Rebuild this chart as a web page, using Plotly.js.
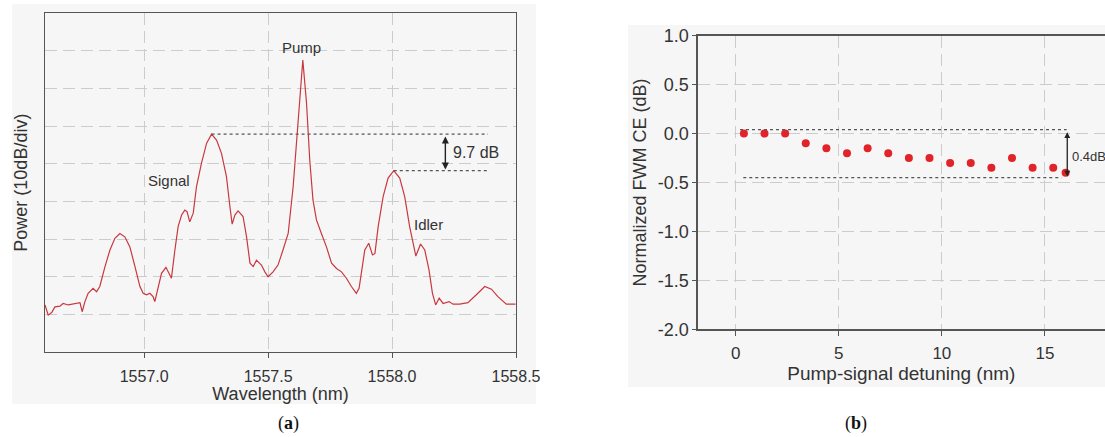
<!DOCTYPE html>
<html>
<head>
<meta charset="utf-8">
<script src="https://cdn.plot.ly/plotly-3.0.1.min.js"></script>
<style>
  html, body { margin: 0; padding: 0; background: #ffffff; overflow: hidden; }
  #chart { width: 1105px; height: 437px; }
</style>
</head>
<body>
<div id="chart"></div>
<script>
// (a) optical spectrum at the waveguide output
const wavelength = [
  1556.600, 1556.613, 1556.627, 1556.640, 1556.660, 1556.673, 1556.694, 1556.721, 1556.741, 1556.750,
  1556.761, 1556.774, 1556.794, 1556.808, 1556.821, 1556.842, 1556.862, 1556.882, 1556.902, 1556.922,
  1556.942, 1556.963, 1556.983, 1556.996, 1557.010, 1557.023, 1557.036, 1557.043, 1557.056, 1557.070,
  1557.088, 1557.101, 1557.110, 1557.124, 1557.137, 1557.151, 1557.164, 1557.173, 1557.184, 1557.198,
  1557.211, 1557.231, 1557.252, 1557.272, 1557.292, 1557.312, 1557.332, 1557.346, 1557.355, 1557.366,
  1557.379, 1557.399, 1557.413, 1557.427, 1557.440, 1557.453, 1557.473, 1557.487, 1557.500, 1557.520,
  1557.540, 1557.560, 1557.581, 1557.601, 1557.621, 1557.640, 1557.655, 1557.668, 1557.681, 1557.695,
  1557.715, 1557.735, 1557.756, 1557.776, 1557.796, 1557.816, 1557.836, 1557.856, 1557.867, 1557.877,
  1557.890, 1557.906, 1557.921, 1557.931, 1557.944, 1557.964, 1557.984, 1558.007, 1558.031, 1558.051,
  1558.071, 1558.096, 1558.115, 1558.132, 1558.149, 1558.163, 1558.176, 1558.190, 1558.206, 1558.230,
  1558.246, 1558.273, 1558.306, 1558.340, 1558.374, 1558.401, 1558.427, 1558.461, 1558.498
];
const power = [
  -67.5, -70.2, -69.5, -68.0, -67.8, -67.1, -67.5, -67.1, -66.9, -69.3,
  -66.6, -64.4, -63.1, -64.0, -62.6, -57.3, -52.9, -49.8, -48.5, -49.4,
  -52.0, -57.3, -62.6, -64.4, -64.8, -64.4, -65.3, -66.6, -62.6, -59.1,
  -57.5, -59.1, -60.4, -52.9, -46.7, -43.6, -42.3, -42.7, -45.4, -43.1,
  -36.1, -29.9, -24.5, -22.1, -23.7, -27.2, -33.4, -41.4, -46.0, -43.6,
  -42.5, -44.0, -49.4, -56.4, -57.3, -55.6, -56.9, -58.7, -60.0, -58.7,
  -56.9, -52.9, -48.5, -36.1, -18.3, -2.4, -13.9, -29.0, -39.6, -44.9,
  -48.5, -52.0, -56.4, -57.8, -58.7, -60.4, -62.6, -64.4, -63.1, -59.1,
  -52.9, -51.1, -54.2, -53.8, -46.7, -38.7, -33.8, -31.8, -33.8, -38.7,
  -46.7, -54.5, -51.3, -52.9, -58.2, -64.4, -67.5, -65.7, -67.1, -66.6,
  -67.3, -67.3, -66.9, -64.8, -62.6, -63.3, -65.3, -67.3, -67.3
];
const wavelengthTicks = [1557.0, 1557.5, 1558.0, 1558.5];
const wavelengthTickText = ['1557.0', '1557.5', '1558.0', '1558.5'];
const signalWavelength = 1557.272;
const idlerWavelength = 1558.007;

// (b) normalized conversion efficiency versus detuning
const detuning = [0.4, 1.4, 2.4, 3.4, 4.4, 5.4, 6.4, 7.4, 8.4, 9.4, 10.4, 11.4, 12.4, 13.4, 14.4, 15.4, 16.0];
const ceNorm = [0, 0, 0, -0.1, -0.15, -0.2, -0.15, -0.2, -0.25, -0.25, -0.3, -0.3, -0.35, -0.25, -0.35, -0.35, -0.4];
const detuningTicks = [0, 5, 10, 15];
const ceTicks = [1.0, 0.5, 0.0, -0.5, -1.0, -1.5, -2.0];
const ceTickText = ['1.0', '0.5', '0.0', '-0.5', '-1.0', '-1.5', '-2.0'];

const W = 1105, H = 437;
const px = v => v / W;          // horizontal pixel -> paper
const py = v => 1 - v / H;      // vertical pixel -> paper

const signalPeak = power[wavelength.indexOf(signalWavelength)];
const idlerPeak = power[wavelength.indexOf(idlerWavelength)];
const ceMax = Math.max(...ceNorm);
const ceMin = Math.min(...ceNorm);

const FONT = 'Liberation Sans, Arial, sans-serif';
const TXT = '#333333';
const AX = '#555555';
const GRID = '#cccccc';
const DASH = '12px,6px';

const traces = [
  {
    x: wavelength, y: power, xaxis: 'x', yaxis: 'y',
    type: 'scatter', mode: 'lines',
    line: { color: '#c8383e', width: 1.2 },
    hoverinfo: 'skip'
  },
  {
    x: detuning, y: ceNorm, xaxis: 'x2', yaxis: 'y2',
    type: 'scatter', mode: 'markers',
    marker: { color: '#e0242a', size: 8 },
    hoverinfo: 'skip'
  }
];

const layout = {
  width: W, height: H,
  margin: { l: 0, r: 0, t: 0, b: 0 },
  paper_bgcolor: '#ffffff',
  plot_bgcolor: '#fdfdfd',
  showlegend: false,
  font: { family: FONT, color: TXT },
  xaxis: {
    domain: [px(45), px(516)],
    anchor: 'y',
    range: [1556.6, 1558.5],
    tickvals: wavelengthTicks, ticktext: wavelengthTickText,
    ticks: 'outside', ticklen: 5, tickcolor: AX, tickwidth: 1,
    ticklabelstandoff: 4,
    tickfont: { size: 16, color: TXT },
    showgrid: true, gridcolor: GRID, griddash: DASH, gridwidth: 1,
    zeroline: false,
    showline: true, linecolor: AX, linewidth: 1.3, mirror: true,
    title: { text: 'Wavelength (nm)', font: { size: 18, color: TXT }, standoff: 1 }
  },
  yaxis: {
    domain: [py(352), py(13.3)],
    anchor: 'x',
    range: [-80, 10],
    tick0: -80, dtick: 10,
    showticklabels: false, ticks: '',
    showgrid: true, gridcolor: GRID, griddash: DASH, gridwidth: 1,
    zeroline: false,
    showline: true, linecolor: AX, linewidth: 1.3, mirror: true,
    title: { text: 'Power (10dB/div)', font: { size: 18, color: TXT }, standoff: 11 }
  },
  xaxis2: {
    domain: [px(697.7), 1],
    anchor: 'y2',
    range: [-1.84, 17.91],
    tickvals: detuningTicks,
    ticks: 'outside', ticklen: 5, tickcolor: AX, tickwidth: 1,
    ticklabelstandoff: 3,
    tickfont: { size: 17, color: TXT },
    showgrid: true, gridcolor: GRID, griddash: DASH, gridwidth: 1,
    zeroline: false,
    showline: true, linecolor: AX, linewidth: 1.3, mirror: true,
    title: { text: 'Pump-signal detuning (nm)', font: { size: 19, color: TXT }, standoff: 2 }
  },
  yaxis2: {
    domain: [py(329.3), py(35.7)],
    anchor: 'x2',
    range: [-2, 1],
    tickvals: ceTicks, ticktext: ceTickText,
    ticks: 'outside', ticklen: 4, tickcolor: AX, tickwidth: 1,
    tickfont: { size: 18, color: TXT },
    showgrid: true, gridcolor: GRID, griddash: DASH, gridwidth: 1,
    zeroline: false,
    showline: true, linecolor: AX, linewidth: 1.3, mirror: false,
    title: { text: 'Normalized FWM CE (dB)', font: { size: 18, color: TXT }, standoff: 6 }
  },
  shapes: [
    // faint panel backgrounds
    { type: 'rect', xref: 'paper', yref: 'paper', layer: 'below',
      x0: px(12), x1: px(536), y0: py(404), y1: py(4),
      fillcolor: '#f6f6f6', line: { width: 0 } },
    { type: 'rect', xref: 'paper', yref: 'paper', layer: 'below',
      x0: px(628), x1: 1, y0: py(387), y1: py(25),
      fillcolor: '#f6f6f6', line: { width: 0 } },
    // signal / idler peak levels
    { type: 'line', xref: 'x', yref: 'y', x0: signalWavelength, x1: 1558.387, y0: signalPeak, y1: signalPeak,
      line: { color: '#555555', width: 1.2, dash: 'dot' } },
    { type: 'line', xref: 'x', yref: 'y', x0: idlerWavelength, x1: 1558.39, y0: idlerPeak, y1: idlerPeak,
      line: { color: '#555555', width: 1.2, dash: 'dot' } },
    // conversion-efficiency spread guides
    { type: 'line', xref: 'x2', yref: 'y2', x0: 0.21, x1: 16.05, y0: ceMax + 0.04, y1: ceMax + 0.04,
      line: { color: '#555555', width: 1.2, dash: 'dot' } },
    { type: 'line', xref: 'x2', yref: 'y2', x0: 0.37, x1: 15.8, y0: ceMin - 0.05, y1: ceMin - 0.05,
      line: { color: '#555555', width: 1.2, dash: 'dot' } }
  ],
  annotations: [
    { xref: 'x', yref: 'y', x: 1557.635, y: 0.9, text: 'Pump', showarrow: false,
      font: { size: 15, color: TXT } },
    { xref: 'x', yref: 'y', x: 1557.101, y: -34.5, text: 'Signal', showarrow: false,
      font: { size: 15, color: TXT } },
    { xref: 'x', yref: 'y', x: 1558.148, y: -46.2, text: 'Idler', showarrow: false,
      font: { size: 15, color: TXT } },
    { xref: 'x', yref: 'y', axref: 'x', ayref: 'y',
      x: 1558.215, y: idlerPeak, ax: 1558.215, ay: signalPeak, text: '',
      showarrow: true, arrowside: 'end+start', arrowhead: 2, arrowsize: 1, arrowwidth: 1.4,
      arrowcolor: '#222222', standoff: 1, startstandoff: 1 },
    { xref: 'x', yref: 'y', x: 1558.237, y: (signalPeak + idlerPeak) / 2, xanchor: 'left',
      text: (signalPeak - idlerPeak).toFixed(1) + ' dB', showarrow: false,
      font: { size: 16, color: TXT } },
    { xref: 'x2', yref: 'y2', axref: 'x2', ayref: 'y2',
      x: 16.08, y: ceMin - 0.05, ax: 16.08, ay: ceMax + 0.04, text: '',
      showarrow: true, arrowside: 'end+start', arrowhead: 2, arrowsize: 0.9, arrowwidth: 1.3,
      arrowcolor: '#222222', standoff: 1, startstandoff: 1 },
    { xref: 'x2', yref: 'y2', x: 16.2, y: -0.23, xanchor: 'left',
      text: (ceMax - ceMin).toFixed(1) + 'dB', showarrow: false,
      font: { size: 13, color: TXT } },
    { xref: 'paper', yref: 'paper', x: px(276.7), y: py(423), yanchor: 'middle',
      text: '(<b>a</b>)', showarrow: false, borderpad: 0,
      font: { family: 'Liberation Serif, DejaVu Serif, serif', size: 18, color: '#111111' } },
    { xref: 'paper', yref: 'paper', x: px(868), y: py(423), yanchor: 'middle',
      text: '(<b>b</b>)', showarrow: false, borderpad: 0,
      font: { family: 'Liberation Serif, DejaVu Serif, serif', size: 18, color: '#111111' } }
  ]
};

Plotly.newPlot('chart', traces, layout, { staticPlot: true, displayModeBar: false });
</script>
</body>
</html>
